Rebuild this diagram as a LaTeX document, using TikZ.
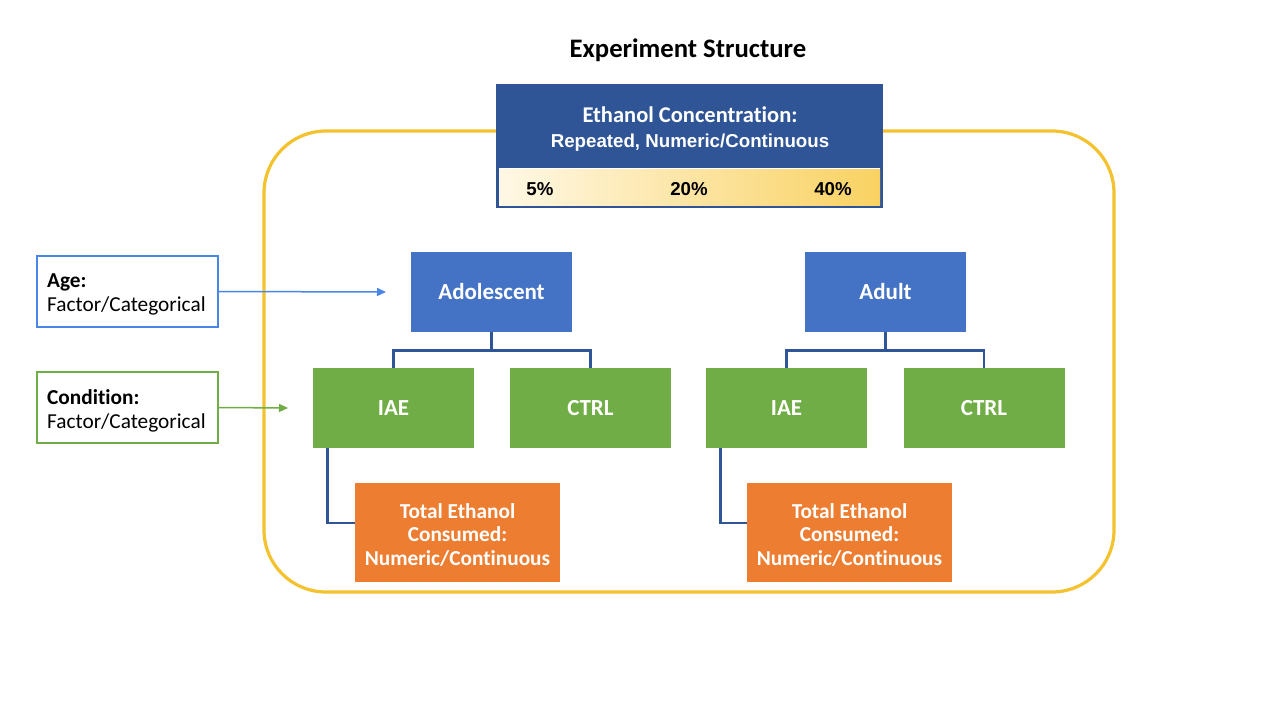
\documentclass[tikz,border=0pt]{standalone}
\usepackage{fontspec}
\setmainfont[Ligatures=NoCommon]{Carlito}
\newfontfamily\arialf{Liberation Sans}
\usetikzlibrary{arrows.meta}
\definecolor{dkblue}{HTML}{2F5597}
\definecolor{midblue}{HTML}{4472C4}
\definecolor{ltblue}{HTML}{4A86E8}
\definecolor{grn}{HTML}{70AD47}
\definecolor{org}{HTML}{ED7D31}
\definecolor{gold}{HTML}{F4C12F}
\definecolor{cream}{HTML}{FFF8E6}
\definecolor{ylw}{HTML}{F9D262}
\tikzset{
  colbox/.style={minimum width=161, minimum height=80, inner sep=0, text=white, font=\fontsize{23}{27}\selectfont\bfseries},
  agebox/.style={colbox, fill=midblue},
  condbox/.style={colbox, fill=grn},
  outbox/.style={minimum width=205, minimum height=99, inner sep=0, fill=org},
  outtext/.style={text=white, align=center, inner sep=0, font=\fontsize{21.3}{23.7}\selectfont\bfseries},
  legbox/.style={minimum width=181, minimum height=71, inner sep=0, fill=white, line width=1.6pt},
  legtext/.style={anchor=west, align=left, font=\fontsize{21.3}{24}\selectfont, inner sep=0},
  link/.style={draw=dkblue, line width=2.8pt},
  pct/.style={font=\arialf\fontsize{18.7}{22}\selectfont\bfseries},
  legarrow/.style={line width=1.5pt, -{Triangle[length=9pt,width=8pt]}}
}
\begin{document}
\begin{tikzpicture}[x=1pt,y=-1pt]
\useasboundingbox (0,0) rectangle (1280,720);
\fill[white] (0,0) rectangle (1280,720);
\node[font=\fontsize{26.7}{30}\selectfont\bfseries] (title) at (688,50) {Experiment Structure};
% yellow container
\draw[gold, line width=3.2pt, rounded corners=62] (264,131) rectangle (1114,592);
% top box
\node[draw=dkblue, line width=1.5pt, fill=dkblue, minimum width=385, minimum height=122, inner sep=0] (conc) at (689.5,146) {};
\shade[left color=cream, right color=ylw] (499,169) rectangle (880,205);
\draw[white, line width=1pt] (499,168.5) -- (880,168.5);
\node[text=white, font=\fontsize{22.5}{26}\selectfont\bfseries] (conct) at (690,115) {Ethanol Concentration:};
\node[text=white, font=\arialf\fontsize{18.7}{22}\selectfont\bfseries] (concs) at (690,143) {Repeated, Numeric/Continuous};
\node[pct] (p5) at (540,189) {5\%};
\node[pct] (p20) at (689,189) {20\%};
\node[pct] (p40) at (833,189) {40\%};
% age boxes
\node[agebox] (adol) at (491.5,292) {\raisebox{-1pt}{Adolescent}};
\node[agebox] (adult) at (885.5,292) {\raisebox{-1pt}{Adult}};
% condition boxes
\node[condbox] (iae1) at (393.5,408) {\raisebox{-1pt}{IAE}};
\node[condbox] (ctrl1) at (590.5,408) {\raisebox{-1pt}{CTRL}};
\node[condbox] (iae2) at (786.5,408) {\raisebox{-1pt}{IAE}};
\node[condbox] (ctrl2) at (984,408) {\raisebox{-1pt}{CTRL}};
% outcome boxes
\node[outbox] (out1) at (457.5,532.5) {};
\node[outtext] (out1t) at (457.5,535) {Total Ethanol\\Consumed:\\Numeric/Continuous};
\node[outbox] (out2) at (849.5,532.5) {};
\node[outtext] (out2t) at (849.5,535) {Total Ethanol\\Consumed:\\Numeric/Continuous};
% links
\draw[link] (adol.south) -- ++(0,18) -| (iae1.north);
\draw[link] (adol.south) -- ++(0,18) -| (ctrl1.north);
\draw[link] (adult.south) -- ++(0,18) -| (iae2.north);
\draw[link] (adult.south) -- ++(0,18) -| (ctrl2.north);
\draw[link] ([xshift=15]iae1.south west) |- ([yshift=9.5]out1.west);
\draw[link] ([xshift=15]iae2.south west) |- ([yshift=9.5]out2.west);
% legend boxes
\node[legbox, draw=ltblue] (agel) at (127.5,291.5) {};
\node[legtext] (ageltxt) at (47,294.5) {\textbf{Age:}\\Factor/Categorical};
\node[legbox, draw=grn] (condl) at (127.5,407.5) {};
\node[legtext] (condltxt) at (47,410.5) {\textbf{Condition:}\\Factor/Categorical};
\coordinate (agetip) at (386,292);
\coordinate (condtip) at (288,408);
\draw[legarrow, ltblue] (agel.east) -- (agetip);
\draw[legarrow, grn] (condl.east) -- (condtip);
\end{tikzpicture}
\end{document}
